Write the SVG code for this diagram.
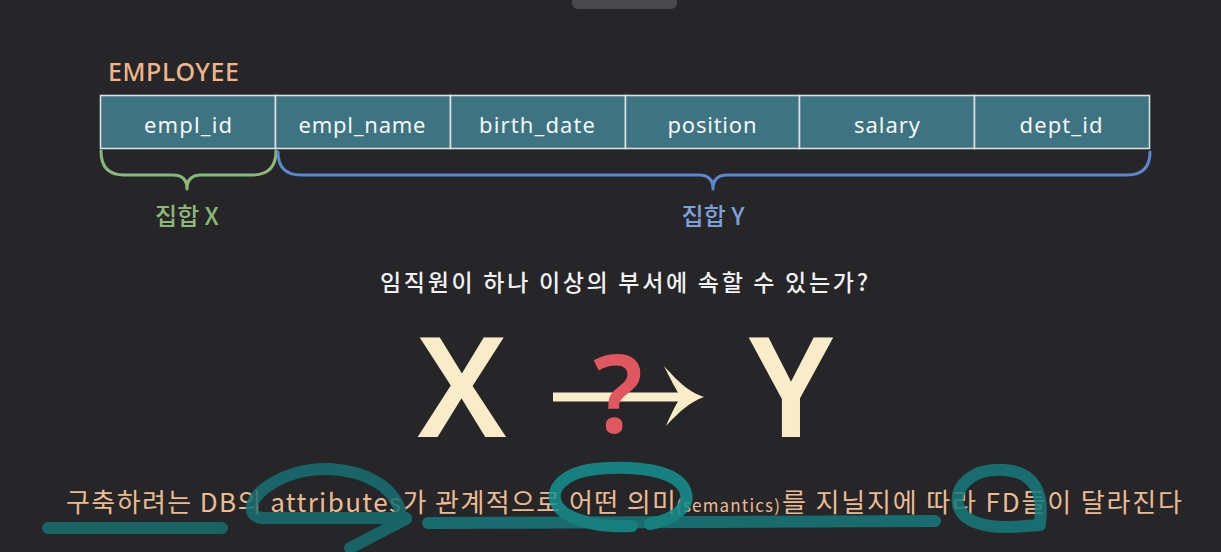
<svg xmlns="http://www.w3.org/2000/svg" width="1221" height="552" viewBox="0 0 1221 552">
<style>
.cell{fill:#3e7381;stroke:#d6e2e4;stroke-width:1.6}
.ct{font-family:"Noto Sans","Open Sans",sans-serif;font-size:22px;fill:#f4f7f8;text-anchor:middle}
.kr{font-family:"Noto Sans CJK KR","Noto Sans",sans-serif}
.big{font-family:"Noto Sans","Open Sans",sans-serif;font-weight:600;font-size:140px;fill:#f9edc9;text-anchor:middle}
.mark{fill:none;stroke-linecap:round;stroke-linejoin:round;stroke-width:12}
.brace{fill:none;stroke-width:3;stroke-linecap:round;stroke-linejoin:round}
</style>
<rect width="1221" height="552" fill="#262528"/>
<rect x="572" y="-10" width="105" height="19" rx="6" fill="#4a4a4c"/>

<g id="title">
<text x="108" y="81" textLength="131" font-family="'Noto Sans','Open Sans',sans-serif" font-weight="500" font-size="25" fill="#f1b58c">EMPLOYEE</text>
</g>

<g id="table">
<g id="c1"><rect class="cell" x="100.5" y="95.5" width="175" height="53"/><text class="ct" x="188" y="133" textLength="88">empl_id</text></g>
<g id="c2"><rect class="cell" x="275.5" y="95.5" width="175" height="53"/><text class="ct" x="362" y="133" textLength="127">empl_name</text></g>
<g id="c3"><rect class="cell" x="450.5" y="95.5" width="175" height="53"/><text class="ct" x="537" y="133" textLength="116">birth_date</text></g>
<g id="c4"><rect class="cell" x="625.5" y="95.5" width="174" height="53"/><text class="ct" x="712" y="133" textLength="89">position</text></g>
<g id="c5"><rect class="cell" x="799.5" y="95.5" width="175" height="53"/><text class="ct" x="887" y="133" textLength="66">salary</text></g>
<g id="c6"><rect class="cell" x="974.5" y="95.5" width="175" height="53"/><text class="ct" x="1061" y="133" textLength="83">dept_id</text></g>
</g>

<g id="braceX">
<path class="brace" stroke="#8bb878" d="M101,151 Q101,175 124,175 L173,175 Q187,175 187,189 Q187,175 201,175 L252,175 Q276,175 276,151"/>
<text class="kr" x="187" y="225" font-size="24" font-weight="500" fill="#8bb878" text-anchor="middle">집합 X</text>
</g>
<g id="braceY">
<path class="brace" stroke="#5b86d0" d="M278,152 Q278,175 301,175 L699,175 Q713,175 713,189 Q713,175 727,175 L1127,175 Q1150,175 1150,152"/>
<text class="kr" x="713" y="225" font-size="24" font-weight="500" fill="#7f9fd8" text-anchor="middle">집합 Y</text>
</g>

<g id="question">
<text class="kr" x="380" y="291" textLength="488" font-size="23" font-weight="500" fill="#f2f2f2">임직원이 하나 이상의 부서에 속할 수 있는가?</text>
</g>

<g id="fd">
<text class="big" x="462" y="437">X</text>
<text class="big" x="791" y="437">Y</text>
<line x1="553" y1="397" x2="690" y2="397" stroke="#f9edc9" stroke-width="9"/>
<path fill="#f9edc9" d="M664,366 C681,385 690,392 704,397 C690,402 681,410 666,426 C671,414 676,404 681,397 C676,390 670,378 664,366 Z"/>
<text x="618" y="433" font-family="'Noto Sans',sans-serif" font-weight="600" font-size="108" fill="#e0575f" text-anchor="middle">?</text>
</g>

<g id="caption" class="kr" fill="#ebbb92">
<text x="66" y="512" font-size="26" textLength="610">구축하려는 DB의 attributes가 관계적으로 어떤 의미</text>
<text x="676" y="512" font-size="17" textLength="104">(semantics)</text>
<text x="782" y="512" font-size="26" textLength="400">를 지닐지에 따라 FD들이 달라진다</text>
</g>

<g id="annotations" opacity="0.85">
<path class="mark" stroke="#176e70" d="M48,528 L222,528"/>
<path class="mark" stroke="#177072" d="M406,518 L262,518 C246,516 250,500 264,489 C282,475 306,468 330,469 C364,471 392,485 400,510 M406,519 L350,548"/>
<path class="mark" stroke="#17797b" d="M428,523 L935,521"/>
<path class="mark" stroke="#15908f" d="M632,526 C600,528 566,520 557,505 C548,488 566,472 596,469 C635,465 676,470 685,490 C692,508 672,520 650,524"/>
<path class="mark" stroke="#167a7c" d="M1040,522 C1044,492 1034,472 1004,470 C972,468 955,486 958,504 C961,522 986,528 1012,527 L1040,525"/>
</g>
</svg>
